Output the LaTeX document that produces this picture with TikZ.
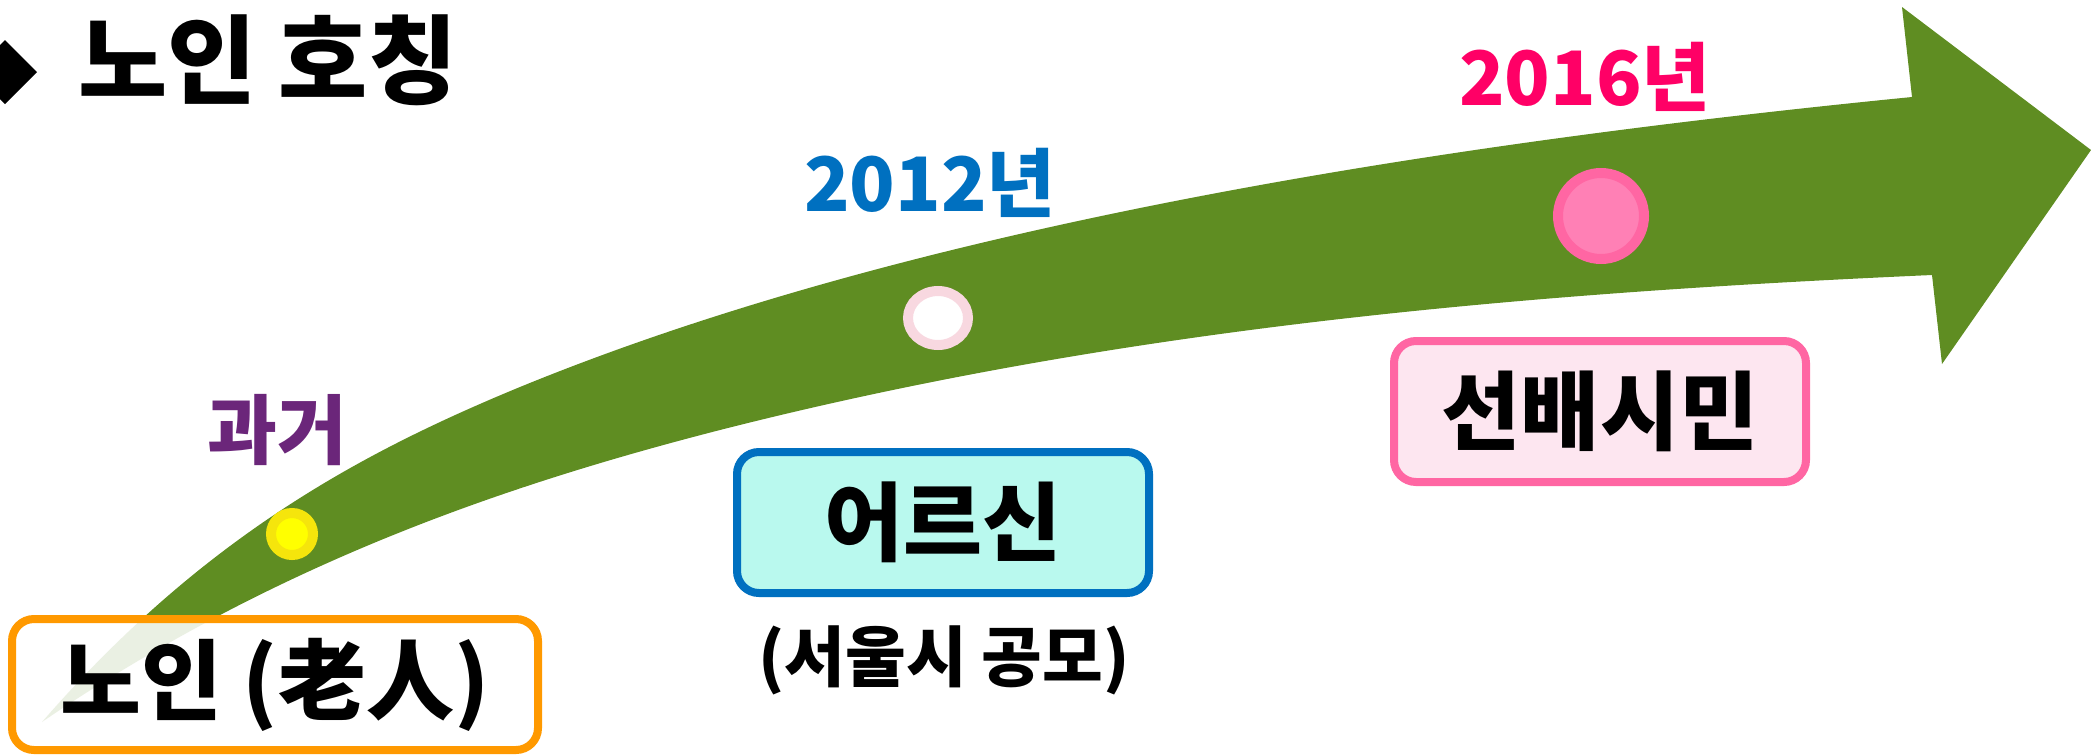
\documentclass[tikz,border=0pt]{standalone}
\usepackage{fontspec}
\newfontfamily\kr{Noto Sans CJK KR}
\usetikzlibrary{shapes.geometric}
\definecolor{arrowgreen}{RGB}{95,141,34}
\definecolor{boxorange}{RGB}{255,153,0}
\definecolor{cyanfill}{RGB}{185,249,238}
\definecolor{blueline}{RGB}{0,112,192}
\definecolor{pinkline}{RGB}{255,102,163}
\definecolor{pinkfill}{RGB}{253,230,240}
\definecolor{yearpink}{RGB}{255,0,102}
\definecolor{pastpurple}{RGB}{107,38,122}
\definecolor{yelring}{RGB}{245,229,12}
\definecolor{yelcore}{RGB}{255,255,0}
\definecolor{palering}{RGB}{248,216,224}
\definecolor{pinkcore}{RGB}{255,128,181}
\begin{document}
\begin{tikzpicture}[x=1pt,y=-1pt,
  namebox/.style={rectangle, rounded corners=22pt, line width=8pt, inner sep=0pt,
    minimum width=412pt, minimum height=141pt,
    font=\kr\bfseries\fontsize{86}{90}\selectfont},
  yeartext/.style={inner sep=0pt, font=\kr\bfseries\fontsize{75}{80}\selectfont},
  dotmark/.style={line width=10pt, inner sep=0pt}]
\useasboundingbox (0,0) rectangle (2091,755);
% big curved arrow
\fill[arrowgreen] (42,722) .. controls (202,538) and (360,453) .. (520,387)
  .. controls (920,223) and (1448,143) .. (1912,97)
  -- (1902,7) -- (2091,150) -- (1942,364) -- (1932,275)
  .. controls (1528,293) and (1124,327) .. (720,430)
  .. controls (494,488) and (268,568) .. (42,722) -- cycle;
% title
\fill (-27,72) -- (5,40) -- (37,72) -- (5,104) -- cycle;
\node[anchor=west, inner sep=0pt, font=\kr\bfseries\fontsize{97}{100}\selectfont] (title) at (78,60) {노인 호칭};
% boxes
\node[namebox, draw=boxorange, fill=white, fill opacity=0.875, text opacity=1,
  minimum width=526pt, minimum height=131pt, font=\kr\bfseries\fontsize{88}{92}\selectfont] (old) at (275,684.5) {노인 (老人)};
\node[namebox, draw=blueline, fill=cyanfill] (elder) at (943,522.5) {어르신};
\node[namebox, draw=pinkline, fill=pinkfill] (senior) at (1600,411.5) {선배시민};
\node[inner sep=0pt, font=\kr\bfseries\fontsize{66}{70}\selectfont] (note) at (944,660) {(서울시 공모)};
% dots
\node[dotmark, circle, draw=yelring, fill=yelcore, minimum size=42pt] (d1) at (292,534) {};
\node[dotmark, ellipse, draw=palering, fill=white, minimum width=60pt, minimum height=54pt] (d2) at (938,318) {};
\node[dotmark, circle, draw=pinkline, fill=pinkcore, minimum size=86pt] (d3) at (1601,216) {};
% labels
\node[inner sep=0pt, text=pastpurple, font=\kr\bfseries\fontsize{76}{80}\selectfont] (past) at (277,430) {과거};
\node[yeartext, text=blueline] (y2012) at (930,183) {2012년};
\node[yeartext, text=yearpink] (y2016) at (1585,77) {2016년};
\end{tikzpicture}
\end{document}
